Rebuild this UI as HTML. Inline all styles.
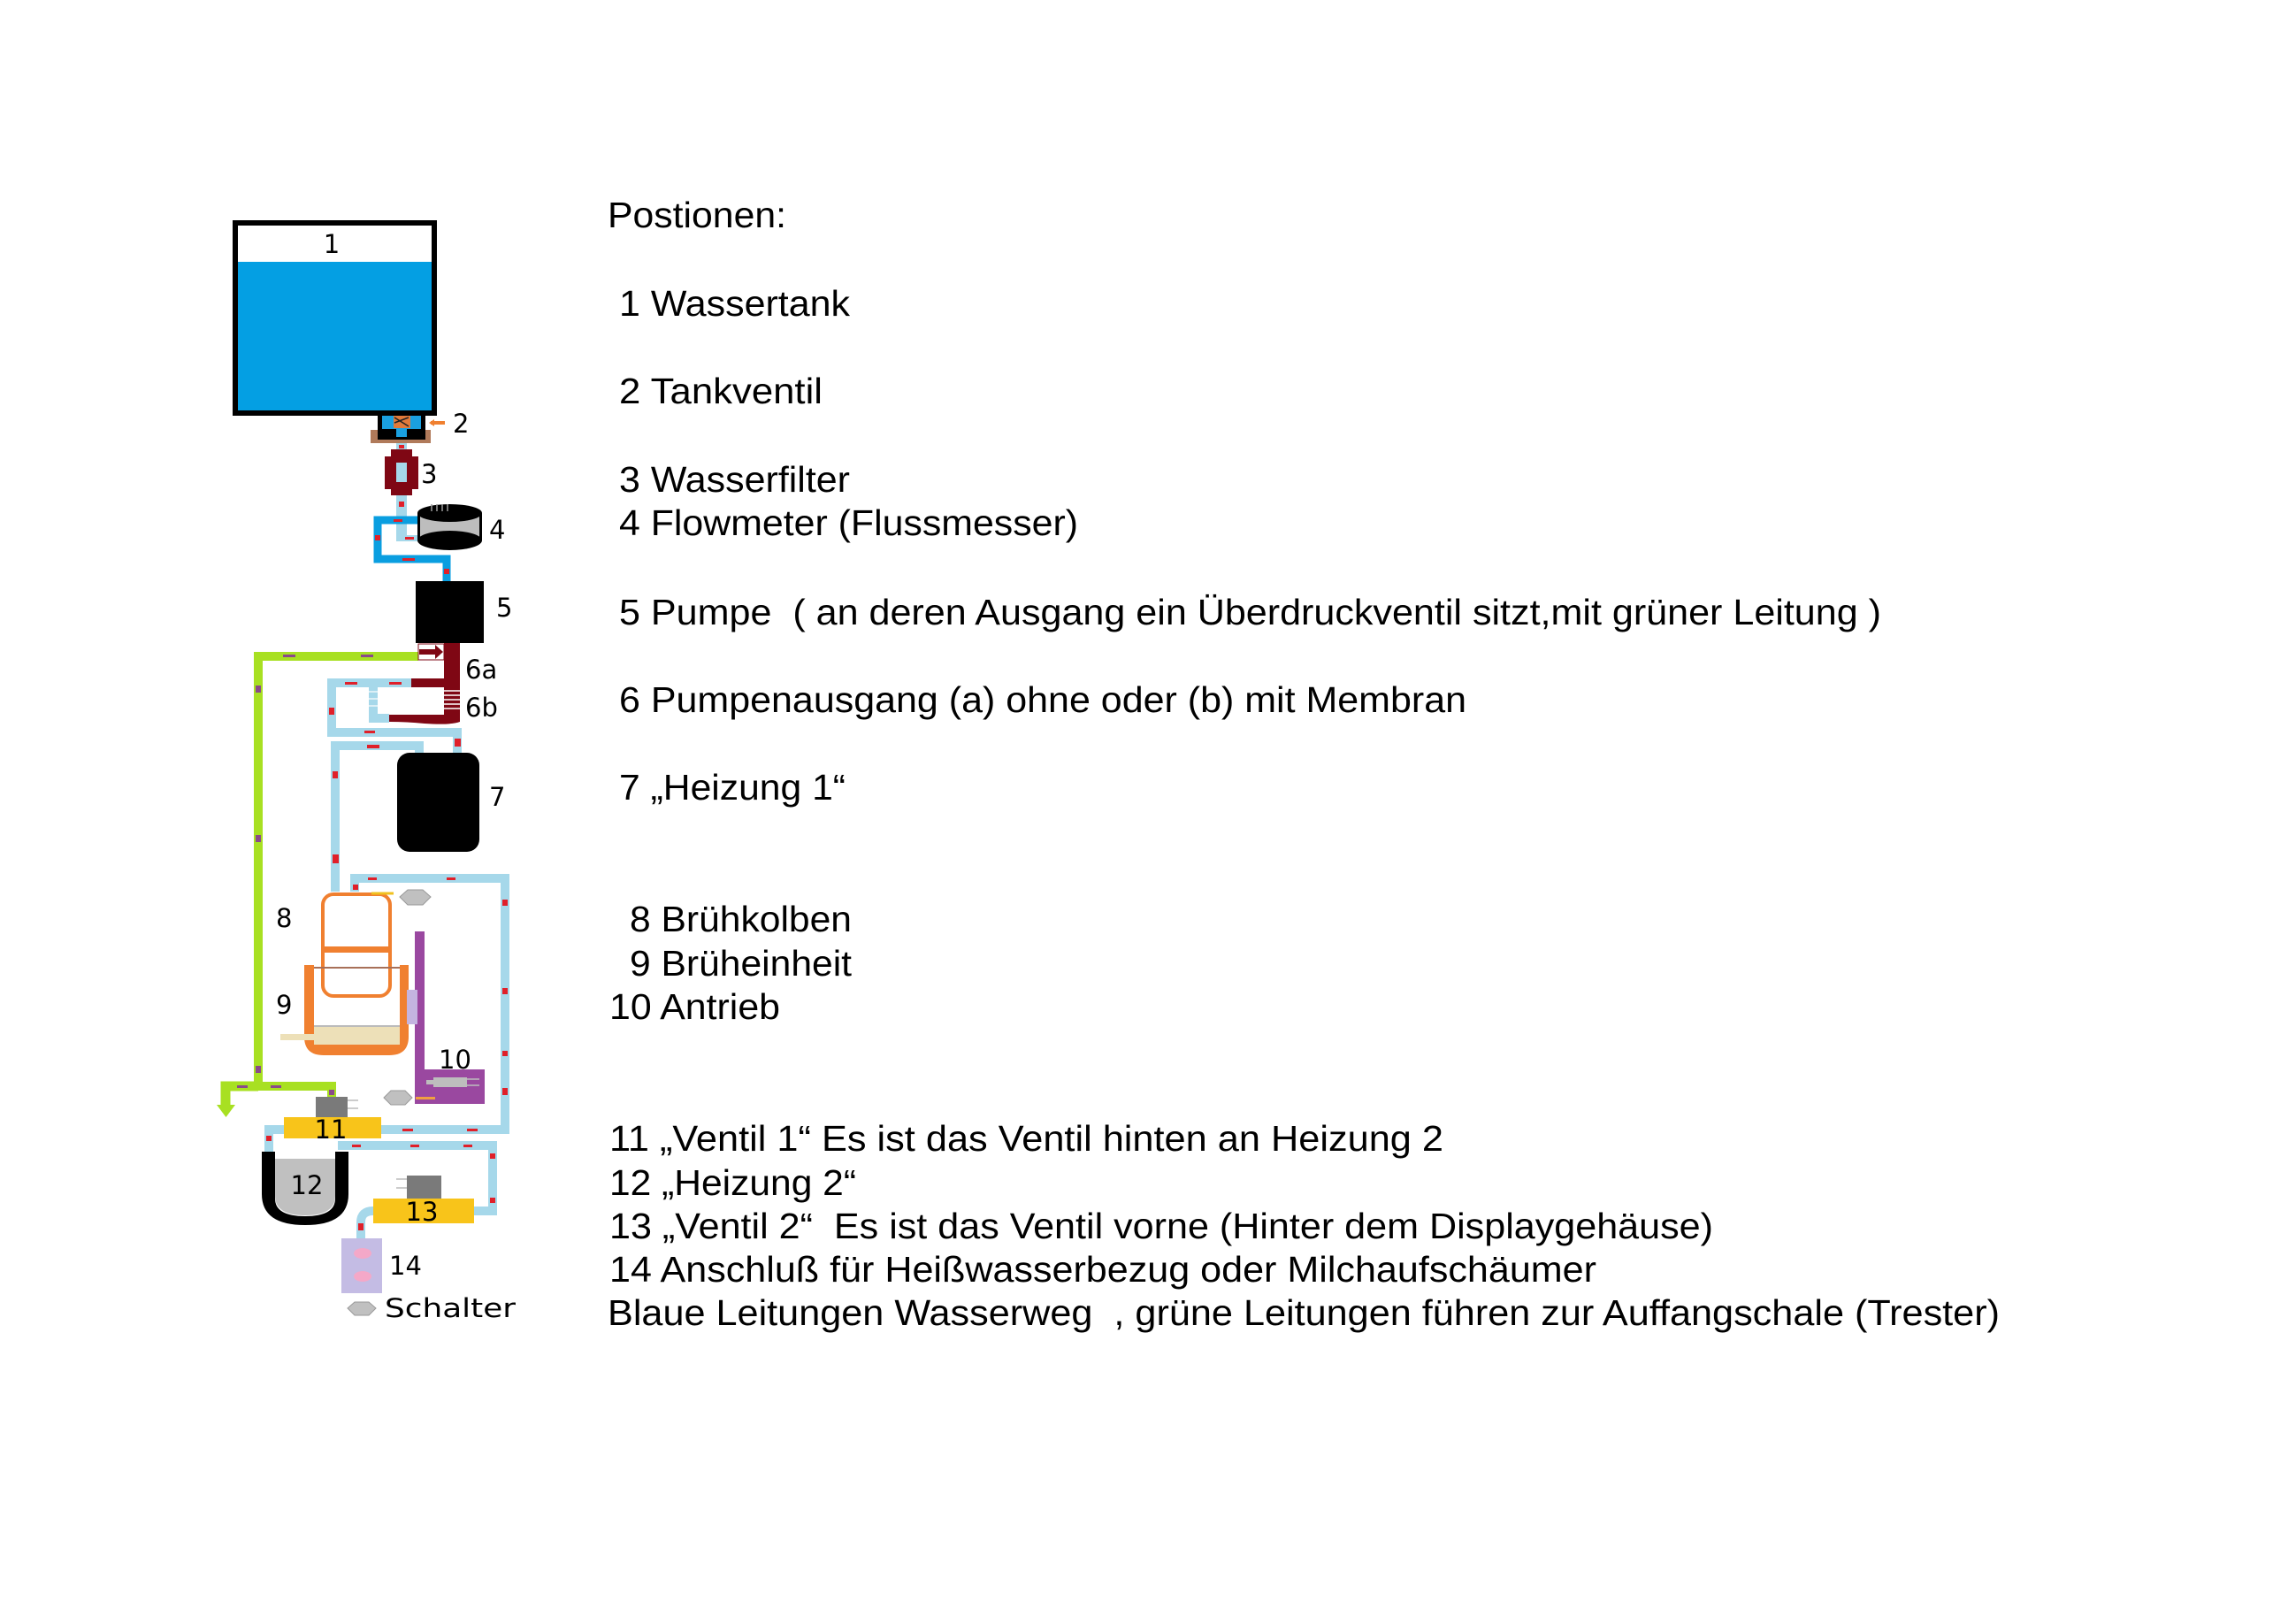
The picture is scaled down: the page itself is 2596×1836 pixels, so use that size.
<!DOCTYPE html>
<html><head><meta charset="utf-8"><style>
html,body{margin:0;padding:0;background:#fff;}
svg{display:block;}
.t{font-family:"Liberation Sans",Arial,sans-serif;font-size:41px;fill:#000;white-space:pre;}
.n{font-family:"DejaVu Sans",Verdana,sans-serif;font-size:29px;fill:#000;}
</style></head><body>
<svg width="2596" height="1836" viewBox="0 0 2596 1836" xmlns="http://www.w3.org/2000/svg">
<rect width="2596" height="1836" fill="#fff"/>

<text class="t" x="687" y="257" textLength="202" lengthAdjust="spacingAndGlyphs">Postionen:</text>
<text class="t" x="700" y="357" textLength="261" lengthAdjust="spacingAndGlyphs">1 Wassertank</text>
<text class="t" x="700" y="456" textLength="230" lengthAdjust="spacingAndGlyphs">2 Tankventil</text>
<text class="t" x="700" y="556" textLength="261" lengthAdjust="spacingAndGlyphs">3 Wasserfilter</text>
<text class="t" x="700" y="605" textLength="519" lengthAdjust="spacingAndGlyphs">4 Flowmeter (Flussmesser)</text>
<text class="t" x="700" y="706" textLength="1427" lengthAdjust="spacingAndGlyphs">5 Pumpe  ( an deren Ausgang ein Überdruckventil sitzt,mit grüner Leitung )</text>
<text class="t" x="700" y="805" textLength="958" lengthAdjust="spacingAndGlyphs">6 Pumpenausgang (a) ohne oder (b) mit Membran</text>
<text class="t" x="700" y="904" textLength="256" lengthAdjust="spacingAndGlyphs">7 „Heizung 1“</text>
<text class="t" x="712" y="1053" textLength="251" lengthAdjust="spacingAndGlyphs">8 Brühkolben</text>
<text class="t" x="712" y="1103" textLength="251" lengthAdjust="spacingAndGlyphs">9 Brüheinheit</text>
<text class="t" x="689" y="1152" textLength="193" lengthAdjust="spacingAndGlyphs">10 Antrieb</text>
<text class="t" x="689" y="1301" textLength="943" lengthAdjust="spacingAndGlyphs">11 „Ventil 1“ Es ist das Ventil hinten an Heizung 2</text>
<text class="t" x="689" y="1351" textLength="279" lengthAdjust="spacingAndGlyphs">12 „Heizung 2“</text>
<text class="t" x="689" y="1400" textLength="1248" lengthAdjust="spacingAndGlyphs">13 „Ventil 2“  Es ist das Ventil vorne (Hinter dem Displaygehäuse)</text>
<text class="t" x="689" y="1449" textLength="1116" lengthAdjust="spacingAndGlyphs">14 Anschluß für Heißwasserbezug oder Milchaufschäumer</text>
<text class="t" x="687" y="1498" textLength="1574" lengthAdjust="spacingAndGlyphs">Blaue Leitungen Wasserweg  , grüne Leitungen führen zur Auffangschale (Trester)</text>

<!-- Tank 1 -->
<rect x="263" y="249" width="231" height="221" fill="#000"/>
<rect x="269" y="255" width="219" height="209" fill="#049fe3"/>
<rect x="269" y="255" width="219" height="41" fill="#fff"/>
<text class="n" x="375" y="286" text-anchor="middle">1</text>

<!-- Valve 2 -->
<rect x="419" y="486" width="68" height="15" fill="#b07a5a"/>
<rect x="427" y="468" width="54" height="29" fill="#000"/>
<rect x="432" y="470" width="44" height="15" fill="#1aa0e0"/>
<rect x="445" y="470" width="19" height="14" fill="#e07a3a"/>
<path d="M446 472 L462 482 M446 478 L462 472" stroke="#222" stroke-width="1.5"/>
<rect x="448" y="484" width="12" height="10" fill="#1aa0e0"/>
<rect x="487" y="476" width="16" height="4" fill="#f08030"/>
<path d="M485 478 L491 474 L491 482 Z" fill="#f08030"/>
<text class="n" x="512" y="489">2</text>

<rect x="448" y="501" width="12" height="10" fill="#a6d8ea"/>
<!-- filter 3 -->
<rect x="442" y="508" width="24" height="52" fill="#7f0714"/>
<rect x="435" y="516" width="38" height="37" fill="#7f0714"/>
<rect x="448" y="523" width="12" height="22" fill="#a6d8ea"/>
<text class="n" x="476" y="546">3</text>

<rect x="448" y="560" width="12" height="52" fill="#a6d8ea"/>
<rect x="448" y="605" width="24" height="7" fill="#a6d8ea"/>
<path d="M472 588 H427 V632 H505 V657" fill="none" stroke="#0a9ee0" stroke-width="9"/>
<!-- flowmeter 4 -->
<rect x="472" y="580" width="73" height="31" fill="#bdbdbd"/>
<rect x="472" y="580" width="3" height="31" fill="#000"/>
<rect x="542" y="580" width="3" height="31" fill="#000"/>
<ellipse cx="508.5" cy="611" rx="36.5" ry="11" fill="#000"/>
<ellipse cx="508.5" cy="580" rx="36.5" ry="10" fill="#000"/>
<path d="M488 578 V570 M494 578 V570 M500 578 V570 M506 578 V570" stroke="#999" stroke-width="1.5"/>
<text class="n" x="553" y="609">4</text>

<!-- pump 5 -->
<rect x="470" y="657" width="77" height="70" fill="#000"/>
<text class="n" x="561" y="697">5</text>

<!-- green line -->
<path d="M473 742 H292 V1228 H375 V1240" fill="none" stroke="#a8e022" stroke-width="10"/>
<path d="M292 1228 H255 V1250" fill="none" stroke="#a8e022" stroke-width="11"/>
<path d="M245 1249 L266 1249 L255.5 1263 Z" fill="#a8e022"/>
<rect x="473" y="728" width="29" height="18" fill="#fff" stroke="#7f0714" stroke-width="1"/>
<path d="M474 734 H492 V729 L501 737 L492 745 V740 H474 Z" fill="#7f0714"/>

<!-- 6a / 6b -->
<rect x="502" y="727" width="18" height="82" fill="#7f0714"/>
<rect x="465" y="767" width="55" height="10" fill="#7f0714"/>
<g stroke="#fff" stroke-width="1.5">
<line x1="502" y1="781" x2="520" y2="781"/><line x1="502" y1="786" x2="520" y2="786"/>
<line x1="502" y1="791" x2="520" y2="791"/><line x1="502" y1="796" x2="520" y2="796"/>
<line x1="502" y1="801" x2="520" y2="801"/>
</g>
<path d="M440 808 H520 V816 Q510 820 480 818 Q460 816 440 816 Z" fill="#7f0714"/>
<text class="n" x="526" y="767">6a</text>
<text class="n" x="526" y="810">6b</text>

<!-- light blue pipes -->
<g fill="none" stroke="#a6d8ea" stroke-width="10">
<path d="M465 772 H375 V828 H517 V853"/>
<path d="M422 775 V812 H440"/>
<path d="M474 853 V843 H379 V1008"/>
<path d="M401 1008 V993 H571 V1277 H431"/>
<path d="M321 1277 H304 V1302"/>
<path d="M382 1295 H557 V1369 H536"/>
<path d="M422 1369 Q408 1369 408 1382 V1400"/>
</g>
<g stroke="#fff" stroke-width="1.2">
<line x1="417" y1="782" x2="427" y2="782"/><line x1="417" y1="790" x2="427" y2="790"/><line x1="417" y1="798" x2="427" y2="798"/>
</g>

<!-- heater 7 -->
<rect x="449" y="851" width="93" height="112" rx="14" fill="#000"/>
<text class="n" x="553" y="911">7</text>

<g fill="#e0202a">
<rect x="451" y="503" width="6" height="4"/>
<rect x="451" y="567" width="6" height="6"/>
<rect x="424" y="605" width="6" height="6"/>
<rect x="502" y="643" width="6" height="6"/>
<rect x="445" y="587" width="10" height="3"/>
<rect x="458" y="607" width="10" height="3"/>
<rect x="455" y="631" width="14" height="3"/>
<rect x="390" y="771" width="14" height="3"/>
<rect x="440" y="771" width="14" height="3"/>
<rect x="372" y="800" width="6" height="8"/>
<rect x="412" y="826" width="12" height="3"/>
<rect x="514" y="835" width="7" height="9"/>
<rect x="415" y="842" width="14" height="4"/>
<rect x="376" y="872" width="6" height="8"/>
<rect x="376" y="966" width="7" height="10"/>
<rect x="399" y="1000" width="6" height="6"/>
<rect x="416" y="992" width="10" height="3"/>
<rect x="505" y="992" width="10" height="3"/>
<rect x="568" y="1017" width="6" height="7"/>
<rect x="568" y="1117" width="6" height="7"/>
<rect x="568" y="1188" width="6" height="6"/>
<rect x="568" y="1230" width="6" height="8"/>
<rect x="455" y="1276" width="12" height="3"/>
<rect x="528" y="1276" width="12" height="3"/>
<rect x="301" y="1284" width="6" height="6"/>
<rect x="398" y="1294" width="10" height="3"/>
<rect x="464" y="1294" width="10" height="3"/>
<rect x="524" y="1294" width="10" height="3"/>
<rect x="554" y="1304" width="6" height="6"/>
<rect x="554" y="1354" width="6" height="6"/>
<rect x="405" y="1383" width="6" height="8"/>
</g>
<g fill="#8a4a8a">
<rect x="320" y="740" width="14" height="3"/>
<rect x="408" y="740" width="14" height="3"/>
<rect x="289" y="775" width="6" height="8"/>
<rect x="289" y="944" width="6" height="8"/>
<rect x="289" y="1205" width="6" height="8"/>
<rect x="268" y="1227" width="12" height="3"/>
<rect x="306" y="1227" width="12" height="3"/>
<rect x="372" y="1232" width="6" height="6"/>
</g>

<!-- brew 8 -->
<rect x="365" y="1011" width="76" height="115" rx="12" fill="none" stroke="#f08030" stroke-width="4"/>
<rect x="365" y="1070" width="76" height="7" fill="#f08030"/>
<line x1="420" y1="1010" x2="445" y2="1010" stroke="#f0c020" stroke-width="3"/>
<text class="n" x="312" y="1048">8</text>
<!-- 9 -->
<path d="M344 1091 H355 V1170 Q355 1180 366 1180 H441 Q452 1180 452 1170 V1091 H462 V1172 Q462 1193 440 1193 H366 Q344 1193 344 1172 Z" fill="#f08030"/>
<rect x="355" y="1160" width="97" height="21" fill="#ede0b8"/>
<rect x="355" y="1159" width="97" height="2" fill="#bbb"/>
<rect x="317" y="1169" width="38" height="7" fill="#ede0b8"/>
<line x1="355" y1="1094" x2="452" y2="1094" stroke="#a87058" stroke-width="2"/>
<text class="n" x="312" y="1146">9</text>
<polygon points="452,1014 461,1006 478,1006 487,1014 478,1023 461,1023" fill="#c0c0c0" stroke="#999" stroke-width="1"/>
<polygon points="434,1241 442,1233 458,1233 466,1241 458,1249 442,1249" fill="#c0c0c0" stroke="#999" stroke-width="1"/>
<polygon points="393,1479 401,1472 417,1472 425,1479 417,1487 401,1487" fill="#c0c0c0" stroke="#999" stroke-width="1"/>

<!-- 10 -->
<rect x="469" y="1053" width="11" height="160" fill="#9a48a0"/>
<rect x="469" y="1209" width="79" height="39" fill="#9a48a0"/>
<rect x="460" y="1119" width="12" height="39" fill="#c4b4e0"/>
<rect x="490" y="1218" width="38" height="11" fill="#bdbdbd"/>
<rect x="482" y="1221" width="8" height="5" fill="#bdbdbd"/>
<line x1="528" y1="1220" x2="542" y2="1220" stroke="#bdbdbd" stroke-width="1.5"/>
<line x1="528" y1="1227" x2="542" y2="1227" stroke="#bdbdbd" stroke-width="1.5"/>
<rect x="470" y="1240" width="22" height="3" fill="#f0a040"/>
<text class="n" x="496" y="1208">10</text>

<!-- valve 11 -->
<rect x="357" y="1240" width="36" height="23" fill="#7a7a7a"/>
<line x1="393" y1="1244" x2="405" y2="1244" stroke="#bbb" stroke-width="1.5"/>
<line x1="393" y1="1253" x2="405" y2="1253" stroke="#bbb" stroke-width="1.5"/>
<rect x="321" y="1263" width="110" height="24" fill="#f8c41a"/>
<text class="n" x="374" y="1287" text-anchor="middle" font-size="31">11</text>

<!-- heater 12 -->
<path d="M296 1302 H311 V1355 Q311 1375 345 1375 Q379 1375 379 1355 V1302 H394 V1350 Q394 1385 345 1385 Q296 1385 296 1350 Z" fill="#000"/>
<path d="M311 1310 H379 V1352 Q379 1374 345 1374 Q311 1374 311 1352 Z" fill="#c0c0c0"/>
<text class="n" x="347" y="1350" text-anchor="middle" font-size="31">12</text>

<!-- valve 13 -->
<rect x="460" y="1329" width="39" height="26" fill="#7a7a7a"/>
<line x1="448" y1="1333" x2="460" y2="1333" stroke="#bbb" stroke-width="1.5"/>
<line x1="448" y1="1343" x2="460" y2="1343" stroke="#bbb" stroke-width="1.5"/>
<rect x="422" y="1355" width="114" height="28" fill="#f8c41a"/>
<text class="n" x="477" y="1380" text-anchor="middle" font-size="31">13</text>

<!-- 14 -->
<rect x="386" y="1400" width="46" height="62" fill="#c4bce4"/>
<ellipse cx="410" cy="1417" rx="10" ry="6" fill="#f4a8c8"/>
<ellipse cx="410" cy="1443" rx="10" ry="6" fill="#f4a8c8"/>
<text class="n" x="440" y="1441">14</text>

<text class="n" x="435" y="1489" textLength="148" lengthAdjust="spacingAndGlyphs" font-size="27">Schalter</text>
</svg>
</body></html>
